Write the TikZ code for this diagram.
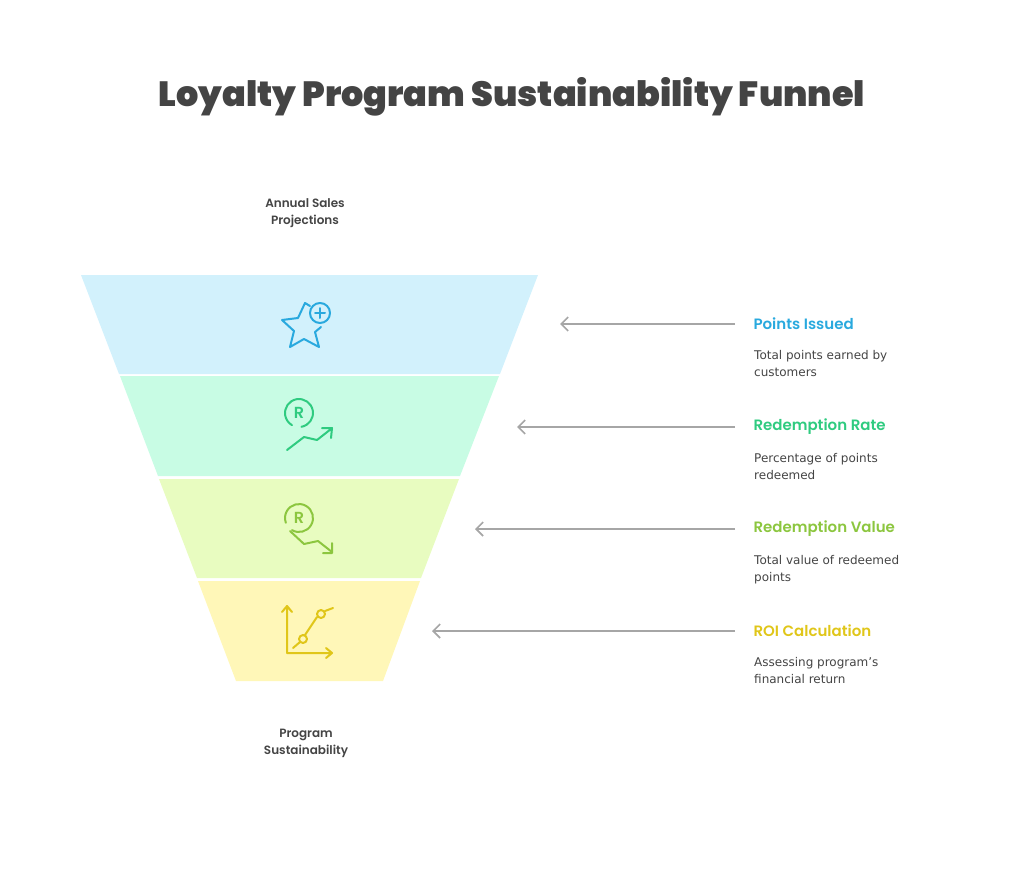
\documentclass[tikz,border=0pt]{standalone}
\usepackage{fontspec}
\setmainfont{DejaVu Sans}
\newfontfamily\headfont{Poppins}[UprightFont=* SemiBold]
\usetikzlibrary{arrows.meta}
\definecolor{cblue}{HTML}{29A9DE}
\definecolor{cgreen}{HTML}{2FCB80}
\definecolor{colive}{HTML}{8CC63F}
\definecolor{cyel}{HTML}{E0C619}
\definecolor{ink}{HTML}{444444}
\tikzset{
 band/.style={draw=none},
 conn/.style={draw=gray!70,line width=1.6pt,-{Straight Barb[length=7pt,width=14pt]}},
 head/.style={anchor=west,font=\headfont\fontsize{15}{17}\selectfont},
 desc/.style={anchor=north west,align=left,text=ink,font=\fontsize{12}{17}\selectfont,inner sep=0pt},
 ico/.style={line width=2pt,line cap=round,line join=round},
 endlab/.style={align=center,text=ink,font=\headfont\fontsize{12}{17}\selectfont},
 rlet/.style={font=\headfont\fontsize{16}{16}\selectfont}
}
\begin{document}
\begin{tikzpicture}[x=1pt,y=-1pt]
\useasboundingbox (0,0) rectangle (1024,870);
\node[text=ink,font=\headfont\fontsize{35}{40}\selectfont\bfseries] (title) at (512,97) {Loyalty Program Sustainability Funnel};
\node[endlab] (top) at (305,213) {Annual Sales\\Projections};
\node[endlab] (bot) at (306,743) {Program\\Sustainability};
\fill[fill={rgb,255:red,210;green,241;blue,252}] (81,275) -- (538,275) -- (500,374) -- (119,374) -- cycle;
\fill[fill={rgb,255:red,200;green,252;blue,228}] (120,376) -- (499,376) -- (460,476) -- (158,476) -- cycle;
\fill[fill={rgb,255:red,232;green,252;blue,192}] (159,479) -- (459,479) -- (421,578) -- (197,578) -- cycle;
\fill[fill={rgb,255:red,255;green,247;blue,184}] (198,581) -- (420,581) -- (383,681) -- (236,681) -- cycle;
\coordinate (b1) at (560,324);\coordinate (b2) at (517,427);\coordinate (b3) at (475,529);\coordinate (b4) at (432,631);
% icons
\draw[ico,cblue] (310,306) -- (305,303) -- (298,318) -- (282,320) -- (294,331) -- (290,347) -- (304,339) -- (319,347) -- (315,332) -- (321,327);
\draw[ico,cblue] (320,313) circle (10); \draw[ico,cblue] (320,308)--(320,318) (315,313)--(325,313);
\coordinate (gc) at (299,413);
\draw[ico,cgreen] ([shift={(80:14)}]gc) arc[start angle=80,end angle=-240,radius=14];
\node[text=cgreen,rlet] at (gc) {R};
\draw[ico,cgreen] (287,450) -- (304,437) -- (317,440) -- (331,429) (322,428)--(332,428)--(331,438);
\coordinate (oc) at (299,518);
\draw[ico,colive] ([shift={(120:14)}]oc) arc[start angle=120,end angle=-200,radius=14];
\node[text=colive,rlet] at (oc) {R};
\draw[ico,colive] (290,531) -- (304,544) -- (318,541) -- (332,552) (332,543)--(332,553)--(323,553);
\draw[ico,cyel] (287,607) -- (287,653) -- (332,653) (282,612)--(287,606)--(292,612) (326,648)--(332,653)--(326,658);
\draw[ico,cyel] (293,648)--(300,642) (305,635)--(317,617) (325,611)--(333,608);
\draw[ico,cyel] (303,639) circle (4) (321,614) circle (4);
% right side
\node[head,text=cblue] (h1) at (750,324) {Points Issued};
\node[desc] (d1) at (754,350) {Total points earned by\\customers};
\node[head,text=cgreen] (h2) at (750,427) {Redemption Rate};
\node[desc] (d2) at (754,453) {Percentage of points\\redeemed};
\node[head,text=colive] (h3) at (750,529) {Redemption Value};
\node[desc] (d3) at (754,555) {Total value of redeemed\\points};
\node[head,text=cyel] (h4) at (750,631) {ROI Calculation};
\node[desc] (d4) at (754,657) {Assessing program's\\financial return};
\draw[conn] (h1.west)++(-15,0) -- (b1);
\draw[conn] (h2.west)++(-15,0) -- (b2);
\draw[conn] (h3.west)++(-15,0) -- (b3);
\draw[conn] (h4.west)++(-15,0) -- (b4);
\end{tikzpicture}
\end{document}
